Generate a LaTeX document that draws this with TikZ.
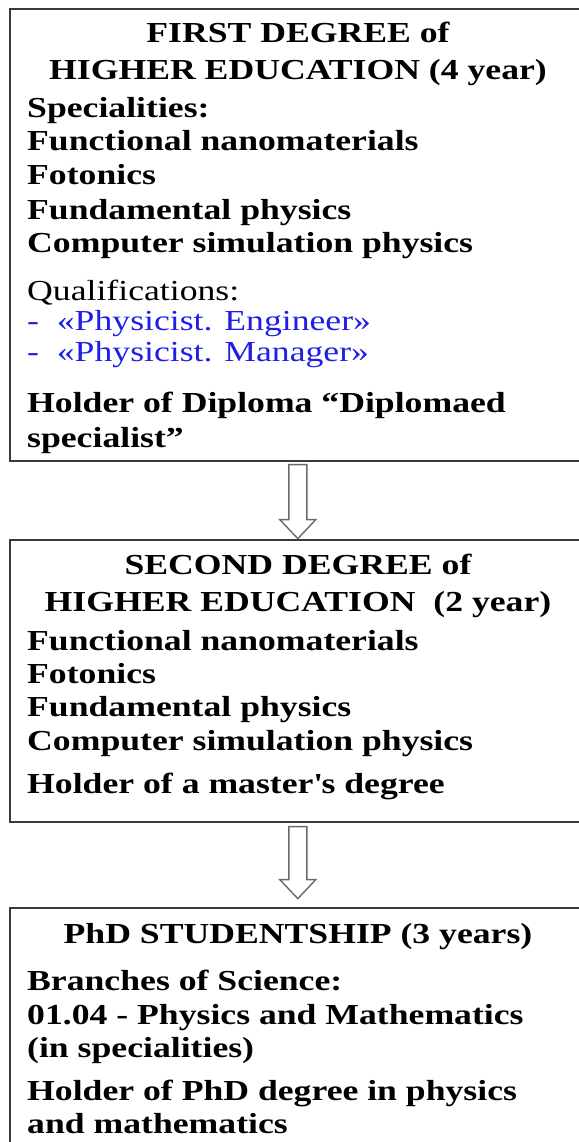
\documentclass[tikz,border=0pt]{standalone}
\usepackage{fontspec}
\setmainfont{Liberation Serif}[FakeStretch=1.23]
\usepackage{tikz}
\usetikzlibrary{calc,positioning}
\definecolor{framec}{HTML}{3A3A3A}
\definecolor{arrc}{HTML}{6A6A6A}
\definecolor{qualc}{HTML}{1E1EE6}
\tikzset{
  degbox/.style={draw=framec,line width=1.6pt,minimum width=578pt,anchor=north west,inner sep=0pt},
  headtxt/.style={font=\fontsize{29}{34}\selectfont\bfseries,anchor=base,inner sep=0pt},
  item/.style={font=\fontsize{29}{34}\selectfont\bfseries,anchor=base west,inner sep=0pt},
  qual/.style={font=\fontsize{29}{34}\selectfont,anchor=base west,inner sep=0pt},
  hollowarr/.style={draw=arrc,line width=1.4pt,line join=miter,fill=white}
}

\begin{document}
\begin{tikzpicture}[x=1pt,y=-1pt]
\useasboundingbox (0,0) rectangle (578,1142);
% the three stages
\node[degbox,minimum height=452pt] (deg1) at (9,8) {};
\node[degbox,minimum height=282pt] (deg2) at (9,539) {};
\node[degbox,minimum height=280pt] (deg3) at (9,907) {};
% hollow arrows
\coordinate (a1) at ($(deg1.south)+(-1,3)$);
\coordinate (a2) at ($(deg2.south)+(-1,4)$);
\draw[hollowarr] (a1) ++(-9,0) -- ++(18,0) -- ++(0,55) -- ++(9,0) -- ++(-18,19)
  -- ++(-18,-19) -- ++(9,0) -- cycle;
\draw[hollowarr] (a2) ++(-9,0) -- ++(18,0) -- ++(0,53) -- ++(9,0) -- ++(-18,19)
  -- ++(-18,-19) -- ++(9,0) -- cycle;
% first degree
\node[headtxt] (h1a) at (298,43) {FIRST DEGREE of};
\node[headtxt] (h1b) at (298,80) {HIGHER EDUCATION (4 year)};
\foreach \yy/\txt in {118/Specialities:,151/Functional nanomaterials,185/Fotonics,
  219/Fundamental physics,252/Computer simulation physics,
  412/Holder of Diploma “Diplomaed,447/specialist”}
  \node[item] (d1-\yy) at (27,\yy) {\txt};
\node[qual] (q0) at (27,300) {Qualifications:};
\node[qual,text=qualc] (q1) at (27,330) {-~~«Physicist. Engineer»};
\node[qual,text=qualc] (q2) at (27,361) {-~~«Physicist. Manager»};
% second degree
\node[headtxt] (h2a) at (298,574) {SECOND DEGREE of};
\node[headtxt] (h2b) at (298,611) {HIGHER EDUCATION~~(2 year)};
\foreach \yy/\txt in {650/Functional nanomaterials,683/Fotonics,716/Fundamental physics,
  750/Computer simulation physics,793/Holder of a master\textquotesingle s degree}
  \node[item] (d2-\yy) at (27,\yy) {\txt};
% phd
\node[headtxt] (h3a) at (298,943) {PhD STUDENTSHIP (3 years)};
\foreach \yy/\txt in {990/Branches of Science:,1024/01.04 - Physics and Mathematics,
  1057/(in specialities),1100/Holder of PhD degree in physics,1133/and mathematics}
  \node[item] (d3-\yy) at (27,\yy) {\txt};
\end{tikzpicture}
\end{document}
